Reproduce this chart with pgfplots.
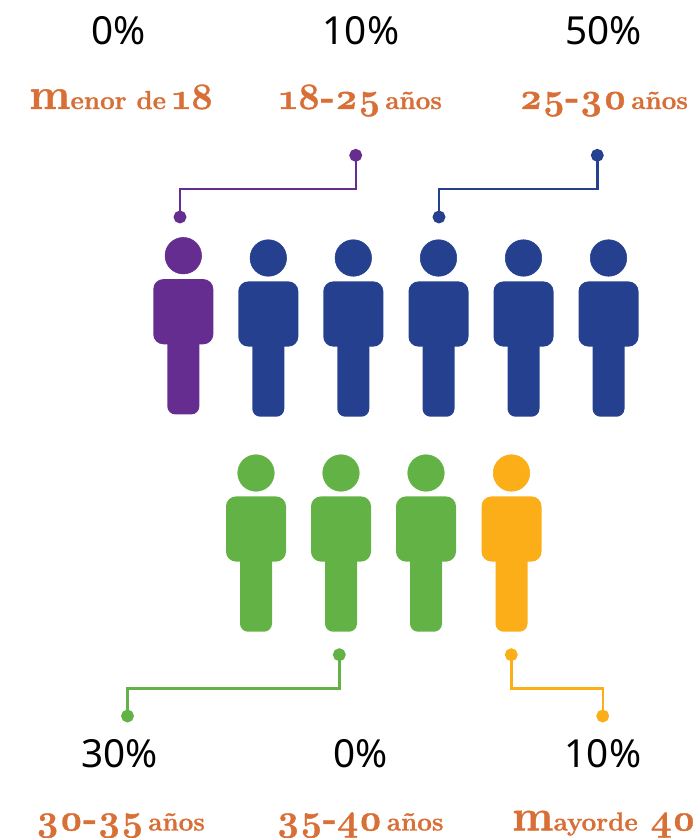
\documentclass[border=0pt]{standalone}
\usepackage{fontspec}
\setmainfont{Noto Sans}
\newfontfamily\oldnum[Numbers=OldStyle, BoldFeatures={FakeBold=1}]{Latin Modern Roman}
\usepackage{pgfplots}
\pgfplotsset{compat=1.18}

\definecolor{cpurple}{HTML}{652D90}
\definecolor{cblue}{HTML}{24408E}
\definecolor{cgreen}{HTML}{63B246}
\definecolor{cyellow}{HTML}{FBAE17}
\definecolor{corange}{HTML}{D86F37}

% heads of the figures, in pixels of the reference
\pgfplotstableread{
x y
183.3 255.7
}\headsPurple
\pgfplotstableread{
x y
268.3 258
353.3 258
438.5 258
523.5 258
608.5 258
}\headsBlue
\pgfplotstableread{
x y
256 473
341 473
426 473
}\headsGreen
\pgfplotstableread{
x y
511.5 473
}\headsYellow

% one body and leg, x = head centre, y = head centre
\newcommand{\person}[3]{%
  \addplot[draw=none, fill=#3, rounded corners=7.5pt] coordinates
    {(#1-30,#2+23.4) (#1+30,#2+23.4) (#1+30,#2+88.6) (#1-30,#2+88.6)} -- cycle;
  \addplot[draw=none, fill=#3, rounded corners=6pt] coordinates
    {(#1-16,#2+70) (#1+16,#2+70) (#1+16,#2+158.7) (#1-16,#2+158.7)} -- cycle;
}
\newcommand{\biglab}[1]{{\oldnum\fontsize{28}{28}\selectfont\bfseries #1}}
\newcommand{\bigem}[1]{{\oldnum\fontsize{33}{33}\selectfont\bfseries #1}}
\newcommand{\smalllab}[1]{{\oldnum\fontsize{19.5}{19}\selectfont\bfseries #1}}
\tikzset{lab/.style={anchor=base west, text=corange, inner sep=0pt}}

\begin{document}
\begin{tikzpicture}
\path[use as bounding box] (0,0) rectangle (522pt,628.5pt);
\begin{axis}[
    scale only axis,
    width=522pt, height=628.5pt,
    xmin=0, xmax=696,
    ymin=0, ymax=838,
    y dir=reverse,
    hide axis,
    clip=false,
]
% bodies
\person{183.3}{255.7}{cpurple}
\person{268.3}{258}{cblue}
\person{353.3}{258}{cblue}
\person{438.5}{258}{cblue}
\person{523.5}{258}{cblue}
\person{608.5}{258}{cblue}
\person{256}{473}{cgreen}
\person{341}{473}{cgreen}
\person{426}{473}{cgreen}
\person{511.5}{473}{cyellow}

% heads
\addplot[only marks, mark=*, mark size=13.7pt, cpurple, mark options={draw=none}] table {\headsPurple};
\addplot[only marks, mark=*, mark size=13.7pt, cblue, mark options={draw=none}] table {\headsBlue};
\addplot[only marks, mark=*, mark size=13.7pt, cgreen, mark options={draw=none}] table {\headsGreen};
\addplot[only marks, mark=*, mark size=13.7pt, cyellow, mark options={draw=none}] table {\headsYellow};

% connectors
\addplot[cpurple, line width=1.8pt, mark=*, mark size=3.9pt, mark indices={1,4}, mark options={draw=none}]
  coordinates {(180,217) (180,188.7) (355.7,188.7) (355.7,155.3)};
\addplot[cblue, line width=1.8pt, mark=*, mark size=3.9pt, mark indices={1,4}, mark options={draw=none}]
  coordinates {(439,217) (439,188.7) (597.3,188.7) (597.3,155.3)};
\addplot[cgreen, line width=1.8pt, mark=*, mark size=3.9pt, mark indices={1,4}, mark options={draw=none}]
  coordinates {(127.5,716) (127.5,688.3) (339.3,688.3) (339.3,654.7)};
\addplot[cyellow, line width=1.8pt, mark=*, mark size=3.9pt, mark indices={1,4}, mark options={draw=none}]
  coordinates {(511.3,654.7) (511.3,688.3) (602.7,688.3) (602.7,716)};

% percentages
\foreach \xx/\yy/\tt in {119/45/0\%, 361/45/10\%, 603.3/45/50\%, 119.7/767/30\%, 361/767/0\%, 603/767/10\%}{
  \edef\temp{\noexpand\node[anchor=base, font=\noexpand\fontsize{29}{29}\noexpand\selectfont] at (axis cs:\xx,\yy) {\tt};}
  \temp
}

% age groups
\node[lab] at (axis cs:29,109) {\bigem{m}\smalllab{enor de}\biglab{\,18}};
\node[lab] at (axis cs:279,109) {\biglab{18-25}\smalllab{\,años}};
\node[lab] at (axis cs:519,109) {\biglab{25-30}\smalllab{\,años}};
\node[lab] at (axis cs:35.5,830.5) {\biglab{30-35}\smalllab{\,años}};
\node[lab] at (axis cs:276,830.5) {\biglab{35-40}\smalllab{\,años}};
\node[lab] at (axis cs:512,830.5) {\bigem{m}\smalllab{ayorde}\biglab{\,\,40}};
\end{axis}
\end{tikzpicture}
\end{document}
